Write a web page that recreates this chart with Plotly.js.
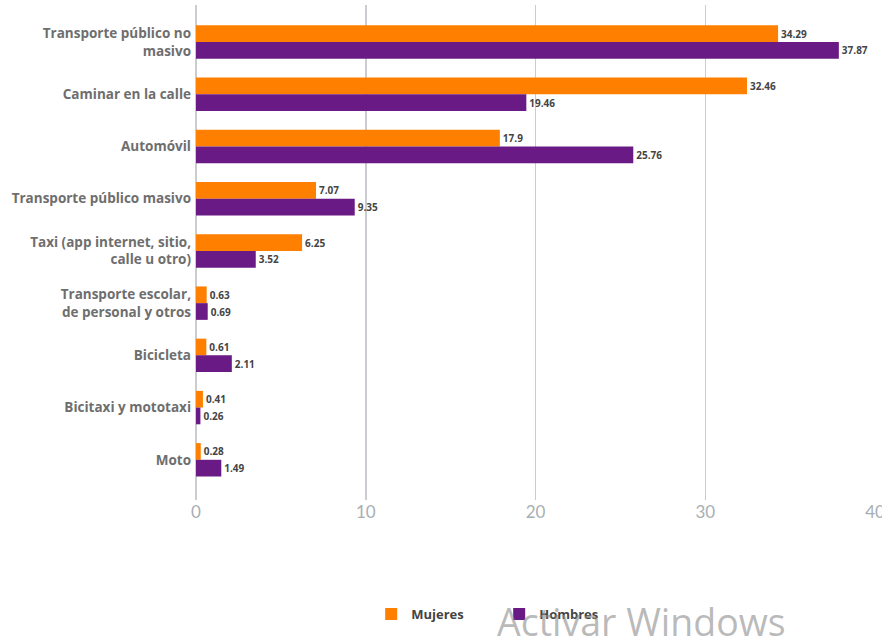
<!DOCTYPE html>
<html>
<head>
<meta charset="utf-8">
<script src="https://cdn.plot.ly/plotly-3.0.1.min.js"></script>
<style>html,body{margin:0;padding:0;background:#fff;overflow:hidden;}#chart{width:882px;height:637px;}</style>
</head>
<body>
<div id="chart"></div>
<script>
const categories = [
  "Transporte público no<br>masivo",
  "Caminar en la calle",
  "Automóvil",
  "Transporte público masivo",
  "Taxi (app internet, sitio,<br>calle u otro)",
  "Transporte escolar,<br>de personal y otros",
  "Bicicleta",
  "Bicitaxi y mototaxi",
  "Moto"
];
const mujeres = [34.29, 32.46, 17.9, 7.07, 6.25, 0.63, 0.61, 0.41, 0.28];
const hombres = [37.87, 19.46, 25.76, 9.35, 3.52, 0.69, 2.11, 0.26, 1.49];
const seriesNames = ["Mujeres", "Hombres"];
const xTicks = [0, 10, 20, 30, 40];

const labelFont = {family: "Open Sans, sans-serif", size: 10, color: "#444", weight: "bold"};

const traces = [
  {
    type: "bar", orientation: "h", name: seriesNames[0],
    y: categories, x: mujeres,
    text: mujeres.map(v => String(v)), textposition: "outside",
    textfont: labelFont, cliponaxis: false,
    marker: {color: "#ff8000"}, hoverinfo: "x+name"
  },
  {
    type: "bar", orientation: "h", name: seriesNames[1],
    y: categories, x: hombres,
    text: hombres.map(v => String(v)), textposition: "outside",
    textfont: labelFont, cliponaxis: false,
    marker: {color: "#6a1a84"}, hoverinfo: "x+name"
  }
];

const layout = {
  width: 882, height: 637,
  margin: {l: 196, r: 7, t: 5, b: 137},
  paper_bgcolor: "#fff", plot_bgcolor: "#fff",
  barmode: "group", bargap: 0.36, bargroupgap: 0,
  showlegend: true,
  legend: {
    orientation: "h", x: 0.258, xanchor: "left", y: -0.2, yanchor: "top",
    font: {family: "Open Sans, sans-serif", size: 13, color: "#444", weight: "bold"},
    itemwidth: 30, entrywidth: 83, entrywidthmode: "pixels", traceorder: "normal"
  },
  xaxis: {
    range: [0, 40], tickvals: xTicks, ticktext: xTicks.map(String),
    showgrid: true, gridcolor: "#c9ccd0", gridwidth: 1.5,
    zeroline: true, zerolinecolor: "#c9ccd0", zerolinewidth: 1.5,
    showline: false, ticks: "", ticklabeloverflow: "allow",
    tickfont: {family: "Lato, sans-serif", size: 17, color: "#a9aeb4"},
    fixedrange: true
  },
  yaxis: {
    type: "category",
    range: [8.77, -0.71],
    showgrid: false, zeroline: false, showline: false, ticks: "",
    ticklabelstandoff: 4,
    tickfont: {family: "Open Sans, sans-serif", size: 13.5, color: "#6e6e6e", weight: "bold"},
    fixedrange: true
  },
  annotations: [
    {
      text: "Activar Windows", xref: "paper", yref: "paper",
      x: 0.44, y: -0.19, xanchor: "left", yanchor: "top", showarrow: false,
      font: {family: "Open Sans, sans-serif", size: 37.5, color: "rgba(140,140,140,0.6)"}
    }
  ]
};

Plotly.newPlot("chart", traces, layout, {displayModeBar: false, staticPlot: true});
</script>
</body>
</html>
